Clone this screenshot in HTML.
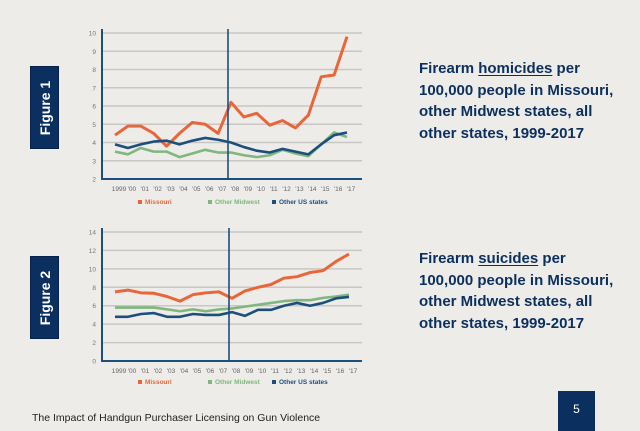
<!DOCTYPE html>
<html><head><meta charset="utf-8"><style>
body{margin:0;width:640px;height:431px;background:#eeece8;overflow:hidden;font-family:"Liberation Sans",sans-serif;position:relative}
.fig{position:absolute;left:30px;width:29px;height:83px;background:#0b2f5e;border:1px solid #06224a;box-sizing:border-box}
.fig span{position:absolute;left:50%;top:50%;transform:translate(-50%,-50%) rotate(-90deg);color:#fff;font-weight:bold;font-size:14px;white-space:nowrap}
.title{position:absolute;left:419px;color:#0b2f5e;font-weight:bold;font-size:15px;line-height:21.5px;width:221px;white-space:nowrap}
.title u{text-decoration-thickness:1px;text-underline-offset:2px}
</style></head><body>
<div class="fig" style="top:66px"><span>Figure 1</span></div>
<div class="fig" style="top:256px"><span>Figure 2</span></div>
<div class="title" style="top:58px">Firearm <u>homicides</u> per<br>100,000 people in Missouri,<br>other Midwest states, all<br>other states, 1999-2017</div>
<div class="title" style="top:248px">Firearm <u>suicides</u> per<br>100,000 people in Missouri,<br>other Midwest states, all<br>other states, 1999-2017</div>
<div style="position:absolute;left:32px;top:412px;font-size:10.5px;color:#222">The Impact of Handgun Purchaser Licensing on Gun Violence</div>
<div style="position:absolute;left:558px;top:391px;width:37px;height:40px;background:#0b2f5e;color:#fff;font-size:12px;text-align:center;line-height:36px">5</div>
<svg id="svg" width="640" height="431" style="position:absolute;left:0;top:0"></svg>
<script>
const years=["1999","'00","'01","'02","'03","'04","'05","'06","'07","'08","'09","'10","'11","'12","'13","'14","'15","'16","'17"];
const hMissouri=[4.4,4.9,4.9,4.5,3.8,4.5,5.1,5.0,4.5,6.2,5.4,5.6,4.95,5.2,4.8,5.5,7.6,7.7,9.8];
const hMidwest=[3.5,3.35,3.7,3.5,3.5,3.2,3.4,3.6,3.45,3.45,3.3,3.2,3.3,3.6,3.4,3.25,3.9,4.55,4.3];
const hOther=[3.9,3.7,3.9,4.05,4.1,3.9,4.1,4.25,4.15,4.0,3.75,3.55,3.45,3.65,3.5,3.35,3.9,4.4,4.55];
const hTicks=[2,3,4,5,6,7,8,9,10];
const sMissouri=[7.5,7.7,7.4,7.35,7.0,6.5,7.2,7.4,7.5,6.8,7.6,8.0,8.3,9.0,9.15,9.6,9.8,10.8,11.6];
const sMidwest=[5.8,5.8,5.8,5.8,5.6,5.4,5.6,5.4,5.6,5.7,5.9,6.1,6.3,6.5,6.6,6.6,6.85,7.0,7.2];
const sOther=[4.8,4.8,5.1,5.2,4.8,4.8,5.1,5.0,5.0,5.3,4.9,5.55,5.55,6.0,6.3,6.0,6.3,6.8,6.95];
const sTicks=[0,2,4,6,8,10,12,14];
const legend=["Missouri","Other Midwest","Other US states"];
const colors=["#e8673a","#7fb77e","#1d4f7c"];
const NS="http://www.w3.org/2000/svg";
const svg=document.getElementById('svg');
function mk(t,a,p){const e=document.createElementNS(NS,t);for(const k in a)e.setAttribute(k,a[k]);(p||svg).appendChild(e);return e;}
function chart(cfg){
  const g=mk('g',{});
  
  
  const x=i=>cfg.x0+(cfg.x1-cfg.x0)*i/(years.length-1);
  const y=v=>cfg.yb+(cfg.yt-cfg.yb)*(v-cfg.min)/(cfg.max-cfg.min);
  cfg.ticks.forEach(t=>{
    if(t!==cfg.min){const l=mk('line',{x1:102,x2:362,y1:y(t),y2:y(t),stroke:'#c9c7c3','stroke-width':1.5},g);}
    const tx=mk('text',{x:96,y:y(t)+2.5,'font-size':6.5,fill:'#777','text-anchor':'end'},g);tx.textContent=t;
    
  });
  years.forEach((yr,i)=>{const tx=mk('text',{x:x(i)+4,y:cfg.yb+12,'font-size':6.5,fill:'#666','text-anchor':'middle'},g);tx.textContent=yr;
    });
  cfg.series.forEach((s,k)=>{
    const p=mk('polyline',{points:s.map((v,i)=>x(i)+','+y(v)).join(' '),fill:'none',stroke:colors[k],'stroke-width':k==0?3:2.6,'stroke-linejoin':'round'},g);
    
  });
  const ax=mk('path',{d:`M102 ${cfg.yt-4} V${cfg.yb} H362`,fill:'none',stroke:'#1d4f7c','stroke-width':2},g);
  
  const vl=mk('line',{x1:cfg.vx,x2:cfg.vx,y1:cfg.yt-4,y2:cfg.yb,stroke:'#1d4f7c','stroke-width':1.6},g);
  
  const lx=[138,208,272];
  legend.forEach((n,k)=>{
    const r=mk('rect',{x:lx[k],y:cfg.ly-4,width:4,height:4,fill:colors[k]},g);
    const t=mk('text',{x:lx[k]+7,y:cfg.ly,'font-size':6.5,'font-weight':'bold',fill:colors[k]},g);t.textContent=n;
    
  });
}
chart({name:'homicide-chart',x0:115,x1:347,yt:33,yb:179,min:2,max:10,ticks:hTicks,series:[hMissouri,hMidwest,hOther],vx:228,ly:204});
chart({name:'suicide-chart',x0:115,x1:349,yt:232,yb:361,min:0,max:14,ticks:sTicks,series:[sMissouri,sMidwest,sOther],vx:229,ly:384});
</script>
</body></html>
